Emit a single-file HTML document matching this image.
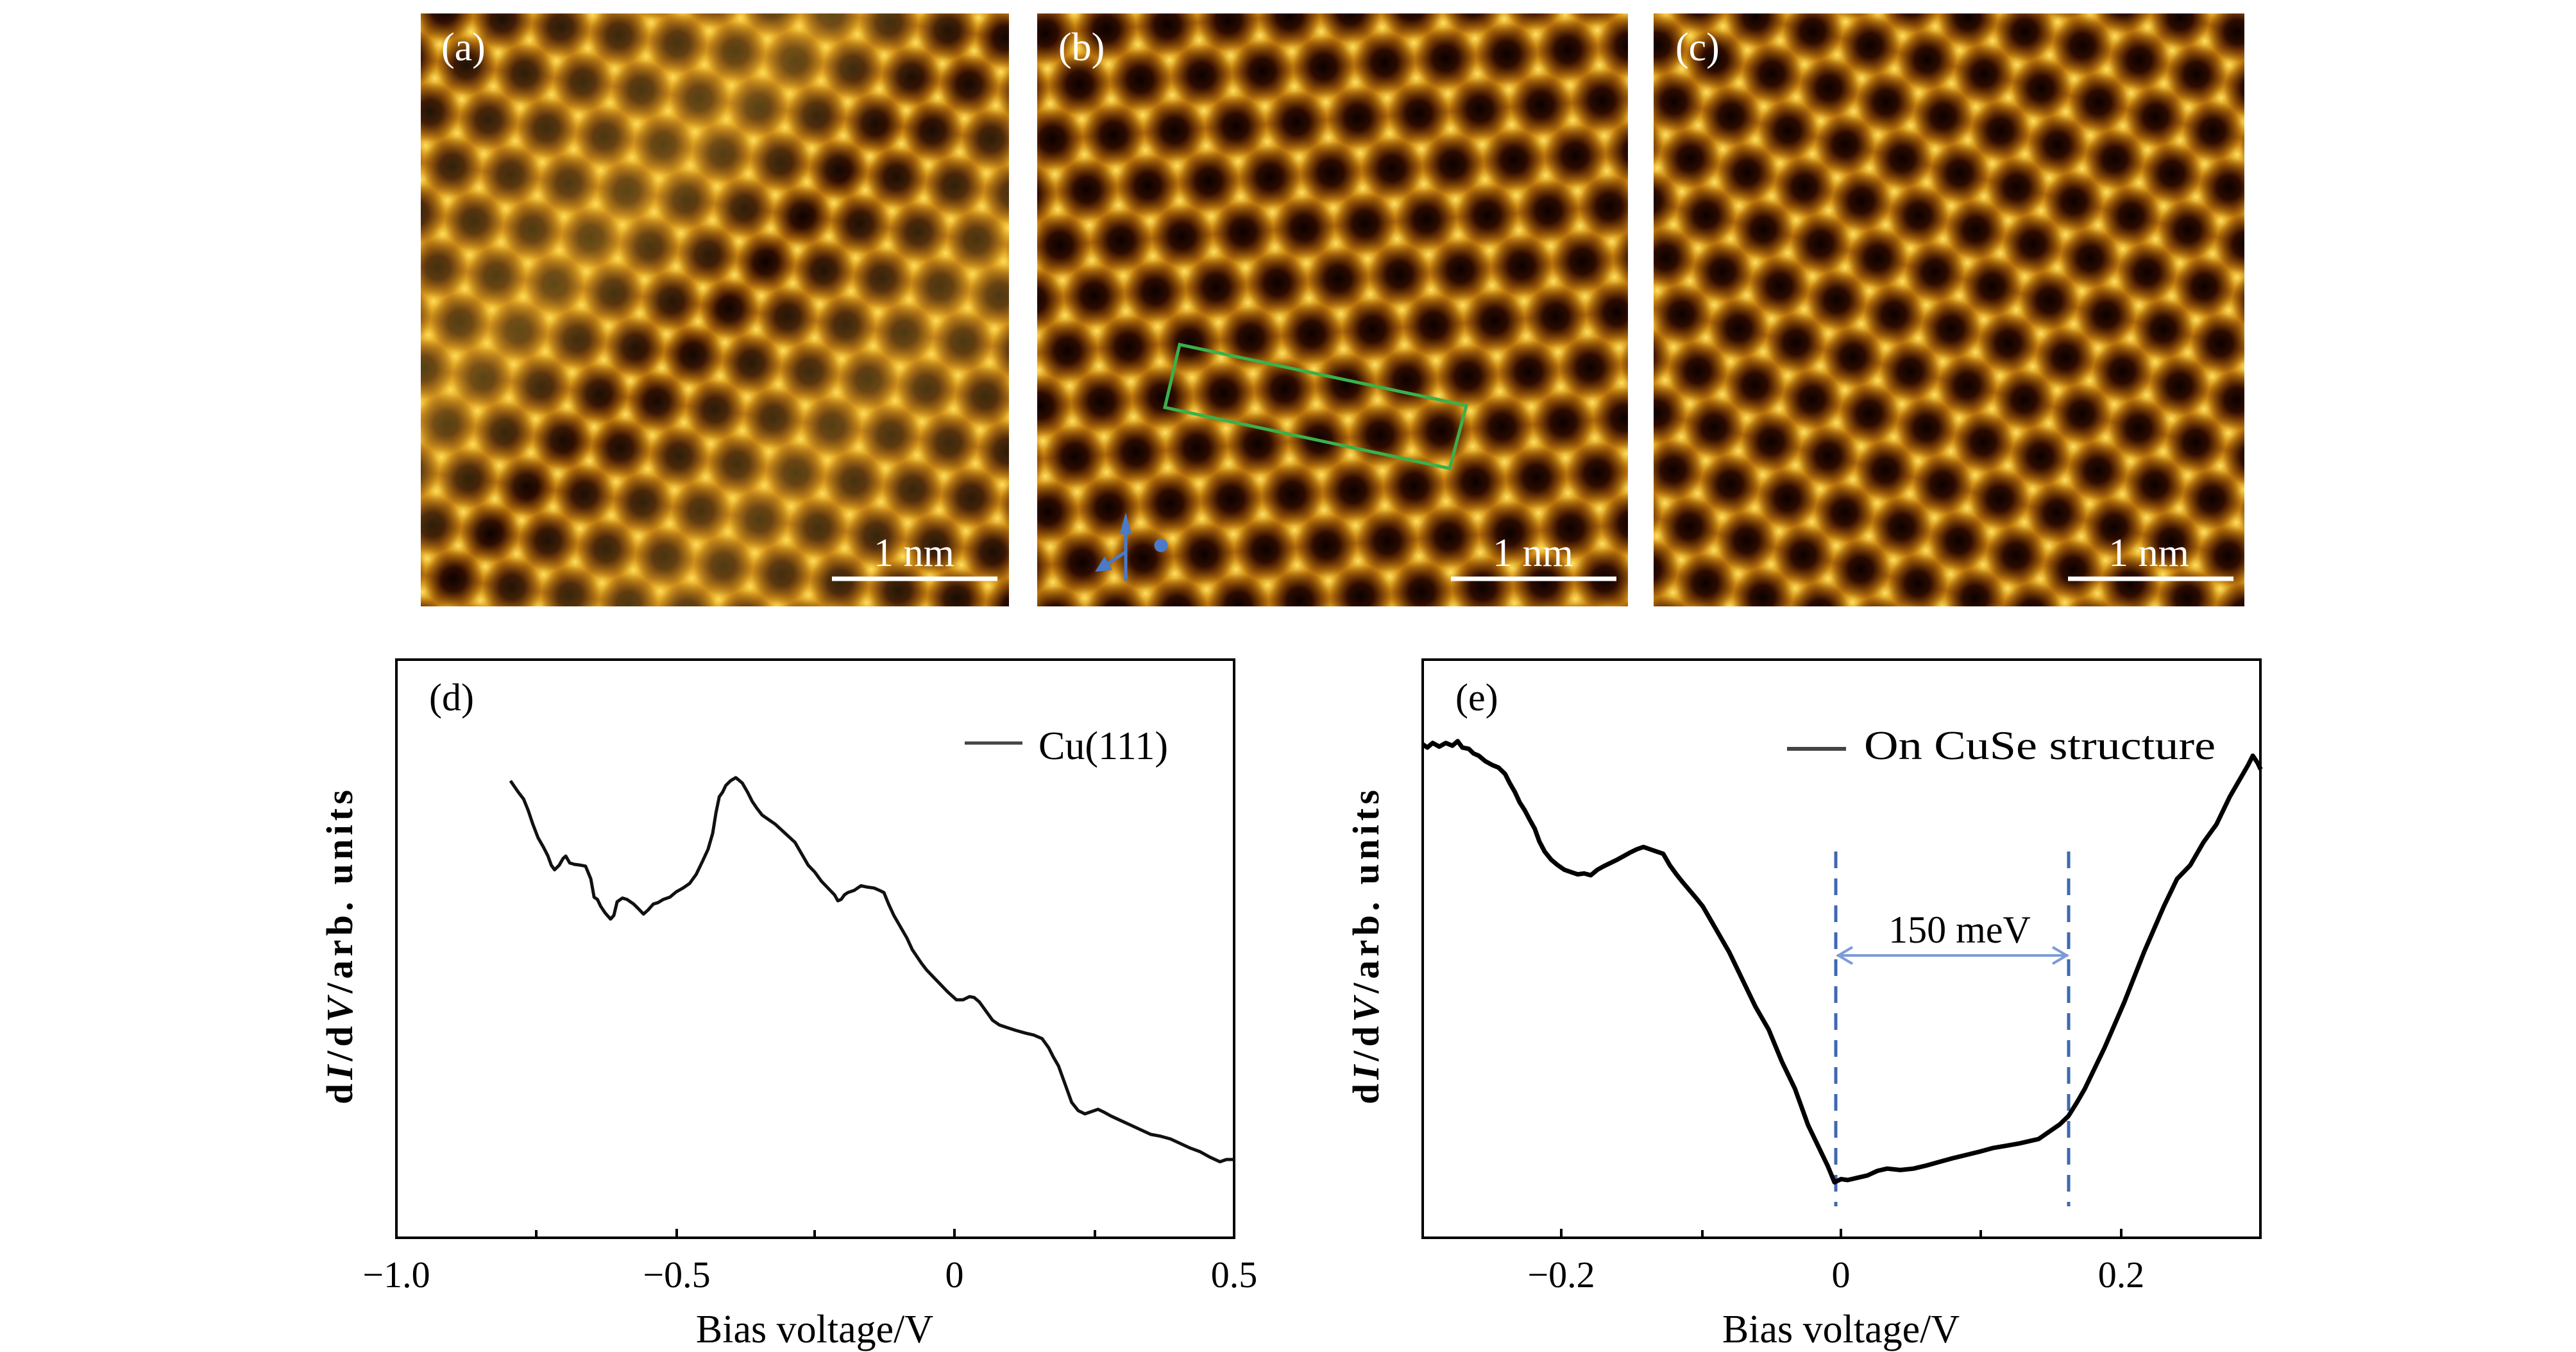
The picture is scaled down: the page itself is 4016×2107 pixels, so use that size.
<!DOCTYPE html>
<html><head><meta charset="utf-8"><style>html,body{margin:0;padding:0;background:#fff;}svg{display:block;}</style></head>
<body>
<svg xmlns="http://www.w3.org/2000/svg" width="4016" height="2107" viewBox="0 0 4016 2107" font-family="'Liberation Serif', serif">
<defs>
<radialGradient id="hole"><stop offset="0" stop-color="#0a0100"/><stop offset="0.4" stop-color="#260700" stop-opacity="0.95"/><stop offset="1" stop-color="#5a2000" stop-opacity="0"/></radialGradient>
<radialGradient id="spot"><stop offset="0" stop-color="#ffe060"/><stop offset="0.5" stop-color="#e8a818" stop-opacity="0.6"/><stop offset="1" stop-color="#d09010" stop-opacity="0"/></radialGradient>
<g id="cell">
<rect width="90" height="156" fill="#a8600a"/>
<circle cx="45" cy="26" r="32" fill="url(#spot)"/><circle cx="0" cy="52" r="32" fill="url(#spot)"/><circle cx="90" cy="52" r="32" fill="url(#spot)"/>
<circle cx="45" cy="130" r="32" fill="url(#spot)"/><circle cx="0" cy="104" r="32" fill="url(#spot)"/><circle cx="90" cy="104" r="32" fill="url(#spot)"/>
<circle cx="0" cy="0" r="46" fill="url(#hole)"/><circle cx="90" cy="0" r="46" fill="url(#hole)"/>
<circle cx="45" cy="78" r="46" fill="url(#hole)"/><circle cx="0" cy="156" r="46" fill="url(#hole)"/><circle cx="90" cy="156" r="46" fill="url(#hole)"/>
</g>
<pattern id="pa" width="90" height="156" patternUnits="userSpaceOnUse" patternTransform="rotate(8) scale(1.02)"><use href="#cell"/></pattern>
<pattern id="pb" width="90" height="156" patternUnits="userSpaceOnUse" patternTransform="rotate(-4) scale(1.06)"><use href="#cell"/></pattern>
<pattern id="pc" width="90" height="156" patternUnits="userSpaceOnUse" patternTransform="rotate(14) scale(1.02)"><use href="#cell"/></pattern>
<linearGradient id="stripe" x1="0" y1="0" x2="1" y2="1"><stop offset="0" stop-color="#ffd040" stop-opacity="0"/><stop offset="0.35" stop-color="#ffd040" stop-opacity="0.35"/><stop offset="0.5" stop-color="#ffd040" stop-opacity="0"/><stop offset="0.7" stop-color="#ffd040" stop-opacity="0.3"/><stop offset="1" stop-color="#ffd040" stop-opacity="0"/></linearGradient>
</defs>

<rect x="656" y="21" width="917" height="924" fill="url(#pa)"/>
<rect x="656" y="21" width="917" height="924" fill="url(#stripe)"/>
<rect x="1617" y="21" width="921" height="924" fill="url(#pb)"/>
<rect x="2578" y="21" width="921" height="924" fill="url(#pc)"/>

<g fill="#fff" font-size="62">
<text x="688" y="94">(a)</text><text x="1650" y="94">(b)</text><text x="2612" y="94">(c)</text>
<text x="1425" y="882" text-anchor="middle">1 nm</text>
<text x="2390" y="882" text-anchor="middle">1 nm</text>
<text x="3350" y="882" text-anchor="middle">1 nm</text>
</g>
<g stroke="#fff" stroke-width="7">
<line x1="1297" y1="902" x2="1555" y2="902"/>
<line x1="2262" y1="902" x2="2520" y2="902"/>
<line x1="3224" y1="902" x2="3482" y2="902"/>
</g>
<polygon points="1839,537 2286,632 2260,730 1816,635" fill="none" stroke="#3cb04a" stroke-width="5"/>
<g stroke="#4a7ac8" stroke-width="5" fill="#4a7ac8">
<line x1="1755" y1="820" x2="1755" y2="905"/><polygon points="1749,830 1761,830 1755,808"/>
<line x1="1755" y1="860" x2="1725" y2="880"/><polygon points="1722,872 1730,886 1712,888"/>
<circle cx="1810" cy="850" r="8"/>
</g>

<!-- Plot d -->
<rect x="618" y="1028" width="1306" height="901" fill="none" stroke="#000" stroke-width="4"/>
<g stroke="#000" stroke-width="4">
<line x1="836" y1="1929" x2="836" y2="1917"/><line x1="1055" y1="1929" x2="1055" y2="1915"/><line x1="1270" y1="1929" x2="1270" y2="1917"/><line x1="1488" y1="1929" x2="1488" y2="1915"/><line x1="1707" y1="1929" x2="1707" y2="1917"/>
</g>
<g font-size="58" text-anchor="middle">
<text x="618" y="2006">−1.0</text><text x="1055" y="2006">−0.5</text><text x="1488" y="2006">0</text><text x="1924" y="2006">0.5</text>
<text x="1270" y="2092" font-size="62">Bias voltage/V</text>
<text x="669" y="1107" text-anchor="start" font-size="60">(d)</text>
<text x="1619" y="1183" text-anchor="start" font-size="62">Cu(111)</text>
</g>
<line x1="1504" y1="1158" x2="1594" y2="1158" stroke="#444" stroke-width="5"/>
<text transform="translate(549,1476) rotate(-90)" text-anchor="middle" font-size="58" font-weight="bold" textLength="490" lengthAdjust="spacing">d<tspan font-style="italic">I</tspan>/d<tspan font-style="italic">V</tspan>/arb. units</text>
<g transform="translate(500,1000) scale(1.027,0.711)">
<polyline fill="none" stroke="#111" stroke-width="5" vector-effect="non-scaling-stroke" stroke-linejoin="round" points="288,305 300,330 308,345 315,370 322,400 330,430 338,450 345,470 350,490 355,500 362,490 368,475 372,470 378,485 385,488 395,490 402,492 410,520 415,560 420,565 425,580 432,595 440,608 445,600 450,570 458,562 465,565 470,570 475,575 482,585 490,597 497,588 505,575 512,572 520,565 530,560 540,548 550,540 560,530 565,520 570,510 575,495 580,480 588,455 595,420 600,375 605,340 610,330 615,315 622,305 630,298 636,305 640,310 648,330 655,350 662,365 670,380 680,390 690,400 705,420 720,440 730,465 740,490 750,505 760,525 770,540 780,555 785,568 790,565 795,555 800,550 810,545 820,535 830,538 840,540 848,545 855,550 862,575 870,600 880,625 890,650 898,675 905,690 912,705 920,720 930,735 940,750 952,768 965,785 975,785 985,778 992,780 1000,790 1010,810 1020,830 1030,840 1040,845 1055,852 1070,858 1082,862 1095,870 1100,880 1105,890 1112,910 1120,930 1130,970 1140,1010 1150,1028 1160,1035 1170,1030 1180,1025 1190,1032 1200,1040 1215,1050 1230,1060 1245,1070 1260,1080 1275,1084 1290,1090 1305,1100 1320,1110 1335,1118 1350,1130 1365,1140 1375,1135 1387,1135"/>
</g>

<!-- Plot e -->
<rect x="2218" y="1028" width="1306" height="901" fill="none" stroke="#000" stroke-width="4"/>
<g stroke="#000" stroke-width="4">
<line x1="2434" y1="1929" x2="2434" y2="1915"/><line x1="2654" y1="1929" x2="2654" y2="1917"/><line x1="2870" y1="1929" x2="2870" y2="1915"/><line x1="3088" y1="1929" x2="3088" y2="1917"/><line x1="3307" y1="1929" x2="3307" y2="1915"/>
</g>
<g font-size="58" text-anchor="middle">
<text x="2434" y="2006">−0.2</text><text x="2870" y="2006">0</text><text x="3307" y="2006">0.2</text>
<text x="2870" y="2092" font-size="62">Bias voltage/V</text>
<text x="2269" y="1107" text-anchor="start" font-size="60">(e)</text>
<text x="2906" y="1183" text-anchor="start" font-size="64" textLength="548" lengthAdjust="spacingAndGlyphs">On CuSe structure</text>
<text x="3055" y="1469" font-size="60">150 meV</text>
</g>
<line x1="2786" y1="1167" x2="2878" y2="1167" stroke="#444" stroke-width="6"/>
<text transform="translate(2149,1476) rotate(-90)" text-anchor="middle" font-size="58" font-weight="bold" textLength="490" lengthAdjust="spacing">d<tspan font-style="italic">I</tspan>/d<tspan font-style="italic">V</tspan>/arb. units</text>
<g stroke="#3f68b0" stroke-width="5" stroke-dasharray="26,16">
<line x1="2862" y1="1327" x2="2862" y2="1880"/><line x1="3225" y1="1327" x2="3225" y2="1880"/>
</g>
<g stroke="#7b9bd8" stroke-width="4" fill="none">
<line x1="2864" y1="1489" x2="3224" y2="1489"/>
<polyline points="2888,1476 2866,1489 2888,1502"/><polyline points="3200,1476 3222,1489 3200,1502"/>
</g>
<g transform="translate(2100,1000) scale(1.027,0.711)">
<polyline fill="none" stroke="#000" stroke-width="7" vector-effect="non-scaling-stroke" stroke-linejoin="round" points="115,225 122,232 130,222 140,230 150,222 160,228 168,218 175,232 185,235 192,245 200,250 210,262 220,270 230,276 240,290 247,310 255,330 262,352 270,370 278,392 285,410 292,438 300,460 310,478 320,490 330,500 340,505 350,510 360,508 370,512 380,500 390,492 400,485 410,478 420,470 430,462 440,455 450,450 460,455 470,460 480,465 490,490 500,510 510,528 520,545 530,562 540,580 550,605 560,630 570,655 580,680 590,710 600,740 610,770 620,800 630,825 640,850 650,885 660,920 670,950 680,980 690,1020 700,1060 710,1090 720,1120 730,1150 740,1185 750,1178 760,1180 775,1175 790,1170 805,1160 820,1155 840,1158 860,1155 880,1148 900,1140 920,1132 940,1125 960,1118 980,1110 1000,1105 1020,1100 1035,1095 1050,1090 1060,1080 1070,1070 1082,1058 1095,1040 1108,1010 1120,980 1135,935 1150,890 1165,840 1180,790 1195,735 1210,680 1225,630 1240,580 1250,550 1260,520 1270,505 1280,490 1290,465 1300,440 1310,420 1320,400 1330,370 1340,340 1350,315 1360,290 1368,270 1375,250 1382,265 1387,280"/>
</g>
</svg>
</body></html>
